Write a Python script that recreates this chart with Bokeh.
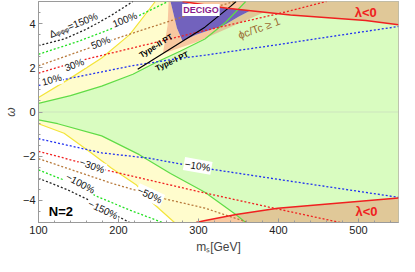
import math
from bokeh.plotting import figure
from bokeh.models import Label, Span, Range1d, SingleIntervalTicker
from bokeh.embed import file_html
from bokeh.resources import INLINE

# ---- region boundaries (m_S [GeV], omega) ----
yellow_up_m = [100, 139, 179, 214, 246]
yellow_up_w = [0.66, 1.51, 2.44, 3.50, 5.0]
yellow_lo_m = [100, 132, 164, 191, 222, 241, 270]
yellow_lo_w = [-0.53, -0.96, -1.80, -2.53, -3.29, -4.06, -5.0]
green_up_m = [100, 140, 179, 218, 246, 277, 308, 334, 359]
green_up_w = [0.39, 0.74, 1.17, 1.71, 2.23, 2.75, 3.30, 4.06, 5.0]
green_lo_m = [100, 124, 179, 226, 265, 308, 347, 359]
green_lo_w = [-0.36, -0.53, -1.08, -1.93, -2.78, -3.63, -4.65, -5.0]
lam_up_m = [280, 336, 415, 509, 550]
lam_up_w = [5.0, 4.69, 4.39, 4.14, 3.95]
lam_lo_m = [297, 308.5, 347, 399, 550]
lam_lo_w = [-5.0, -4.91, -4.64, -4.35, -3.89]
pt_m = [224, 308, 340, 347]
pt_w = [1.93, 3.84, 4.78, 5.0]
decigo_m = [265, 280, 297, 336, 365, 350, 332, 297, 280, 273, 268.5]
decigo_w = [5.0, 5.0, 4.78, 4.69, 4.59, 4.31, 3.93, 3.50, 3.21, 3.80, 4.48]
phic_m = [255.5, 261.4, 262.6, 265, 268.5, 273, 280, 297, 332, 350, 365, 381.5, 297, 267]
phic_w = [2.65, 3.93, 5.0, 5.0, 4.48, 3.80, 3.21, 3.50, 3.93, 4.31, 4.59, 4.50, 3.16, 2.78]

# ---- Delta contours ----
c10_up_m = [100, 132, 218, 273, 308, 400, 450, 550]
c10_up_w = [1.20, 1.47, 2.10, 2.41, 2.57, 3.05, 3.33, 3.87]
c10_lo_m = [100, 179, 238, 300, 400, 550]
c10_lo_w = [-1.21, -1.85, -2.09, -2.50, -3.05, -3.86]
c30_up_m = [100, 155, 300, 400, 460]
c30_up_w = [1.76, 2.35, 3.62, 4.45, 5.0]
c30_lo_m = [100, 147, 187, 300, 394, 477]
c30_lo_w = [-1.78, -2.23, -2.65, -3.60, -4.35, -5.0]
c50_up_m = [100, 155, 206, 297, 345]
c50_up_w = [2.09, 2.79, 3.43, 4.50, 5.0]
c50_lo_m = [100, 191, 258, 308, 362]
c50_lo_w = [-2.11, -3.22, -3.93, -4.35, -5.0]
c100_up_m = [100, 150, 190, 225, 262]
c100_up_w = [2.61, 3.20, 3.75, 4.35, 5.0]
c100_lo_m = [100, 132, 175, 215, 255]
c100_lo_w = [-2.62, -3.08, -3.85, -4.45, -5.0]
c150_up_m = [100, 132, 160, 190, 218]
c150_up_w = [3.0, 3.3, 3.75, 4.35, 5.0]
c150_lo_m = [100, 135, 164, 190, 214]
c150_lo_w = [-3.0, -3.5, -4.0, -4.55, -5.0]

# contour labels: text, m, omega, angle(deg)
clab_text = ["Δᵩᵩᵩ=150%", "100%", "50%", "30%", "10%", "−10%", "−30%", "−50%", "−100%", "−150%"]
clab_m = [143.6, 207.8, 177.7, 144.8, 116.5, 299, 167, 239, 152.4, 180.7]
clab_w = [3.93, 4.18, 3.14, 2.14, 1.46, -2.44, -2.44, -3.76, -3.23, -4.42]
clab_ang = [22, 22, 22, 20, 15, -10, -20, -25, -28, -25]

x_ticks = [100, 200, 300, 400, 500]
y_ticks = [-4, -2, 0, 2, 4]

p = figure(width=399, height=256, x_range=Range1d(100, 550), y_range=Range1d(-5, 5),
           output_backend="svg", toolbar_location=None,
           min_border_left=25, min_border_right=1, min_border_top=1, min_border_bottom=10)
p.xgrid.visible = False
p.ygrid.visible = False
p.background_fill_color = "white"
p.outline_line_color = "#9a9a9a"

LAM_COLOR = "#ed7558"
LAM_ALPHA = 0.385

# yellow region
p.patch(yellow_up_m + [550, 550] + yellow_lo_m[::-1],
        yellow_up_w + [5, -5] + yellow_lo_w[::-1],
        fill_color="#fffccd", line_color=None)
# green region
p.patch(green_up_m + [550, 550] + green_lo_m[::-1],
        green_up_w + [5, -5] + green_lo_w[::-1],
        fill_color="#d9fcc0", line_color=None)
# phi_c/T_c >= 1 band
p.patch(phic_m, phic_w, fill_color=LAM_COLOR, fill_alpha=LAM_ALPHA, line_color=None)
# lambda<0 regions
p.patch(lam_up_m + [550], lam_up_w + [5], fill_color=LAM_COLOR, fill_alpha=LAM_ALPHA, line_color=None)
p.patch(lam_lo_m + [550], lam_lo_w + [-5], fill_color=LAM_COLOR, fill_alpha=LAM_ALPHA, line_color=None)
# DECIGO
p.patch(decigo_m, decigo_w, fill_color="#7262bd", line_color=None)

p.add_layout(Span(location=0, dimension="width", line_color="#bbbbbb", line_alpha=0.35, line_width=1))

# boundaries
p.line(green_up_m, green_up_w, line_color="#5fdc46", line_width=1.2)
p.line(green_lo_m, green_lo_w, line_color="#5fdc46", line_width=1.2)
p.line(yellow_up_m, yellow_up_w, line_color="#f3e43a", line_width=1.2)
p.line(yellow_lo_m, yellow_lo_w, line_color="#f3e43a", line_width=1.2)

dash = "2 2"
for xs, ys, col in [(c10_up_m, c10_up_w, "#2030f0"), (c10_lo_m, c10_lo_w, "#2030f0"),
                    (c30_up_m, c30_up_w, "#f02020"), (c30_lo_m, c30_lo_w, "#f02020"),
                    (c50_up_m, c50_up_w, "#b87a3c"), (c50_lo_m, c50_lo_w, "#b87a3c"),
                    (c100_up_m, c100_up_w, "#22e022"), (c100_lo_m, c100_lo_w, "#22e022"),
                    (c150_up_m, c150_up_w, "#222222"), (c150_lo_m, c150_lo_w, "#222222")]:
    p.line(xs, ys, line_color=col, line_width=1.3, line_dash=dash)

p.line(pt_m, pt_w, line_color="black", line_width=1.2)
p.line(lam_up_m, lam_up_w, line_color="#f02020", line_width=1.5)
p.line(lam_lo_m, lam_lo_w, line_color="#f02020", line_width=1.5)

FONT = "Liberation Sans"
for t, xm, yw, a in zip(clab_text, clab_m, clab_w, clab_ang):
    p.add_layout(Label(x=xm, y=yw, text=t, angle=math.radians(a), text_align="center",
                       text_baseline="middle", text_color="#111111", text_font=FONT,
                       text_font_size="10px", background_fill_color="white", padding=1))

def lab(text, xm, yw, a=0, color="black", size="10px", style="normal", bg=None):
    p.add_layout(Label(x=xm, y=yw, text=text, angle=math.radians(a), text_align="center",
                       text_baseline="middle", text_color=color, text_font=FONT,
                       text_font_size=size, text_font_style=style,
                       background_fill_color=bg, padding=1))

lab("DECIGO", 303, 4.61, 0, "#8a1a8a", "9px", "bold", "white")
lab("Type-II PT", 247, 2.99, 32, "black", "8px", "bold")
lab("Type-I PT", 267, 2.29, 25, "black", "8px", "bold")
lab("ϕc/Tc ≥ 1", 375.6, 3.80, 20, "#9a6a30", "11px")
lab("λ<0", 509, 4.52, 0, "#f02020", "13px", "bold")
lab("λ<0", 510, -4.52, 0, "#f02020", "13px", "bold")
lab("N=2", 128, -4.52, 0, "black", "13px", "bold")

# axes
p.xaxis.ticker = SingleIntervalTicker(interval=100, num_minor_ticks=5)
p.xaxis.major_label_overrides = {v: str(v) for v in x_ticks}
p.yaxis.ticker = SingleIntervalTicker(interval=2, num_minor_ticks=4)
p.yaxis.major_label_overrides = {v: (str(v) if v >= 0 else "−" + str(-v)) for v in y_ticks}
for ax in (p.xaxis[0], p.yaxis[0]):
    ax.axis_line_color = "#9a9a9a"
    ax.major_tick_line_color = "#9a9a9a"
    ax.minor_tick_line_color = "#9a9a9a"
    ax.major_tick_in = 4
    ax.major_tick_out = 0
    ax.minor_tick_in = 2
    ax.minor_tick_out = 0
    ax.major_label_text_font = FONT
    ax.major_label_text_font_size = "11px"
    ax.major_label_text_color = "#222222"
    ax.major_label_standoff = 3
p.xaxis.axis_label = "mₛ[GeV]"
p.xaxis.axis_label_text_font = FONT
p.xaxis.axis_label_text_font_style = "normal"
p.xaxis.axis_label_text_font_size = "12px"
p.xaxis.axis_label_standoff = 3
p.yaxis.axis_label = "ω"
p.yaxis.axis_label_text_font = FONT
p.yaxis.axis_label_text_font_style = "italic"
p.yaxis.axis_label_text_font_size = "12px"
p.yaxis.axis_label_standoff = 2

open("out.html", "w").write(file_html(p, INLINE))
